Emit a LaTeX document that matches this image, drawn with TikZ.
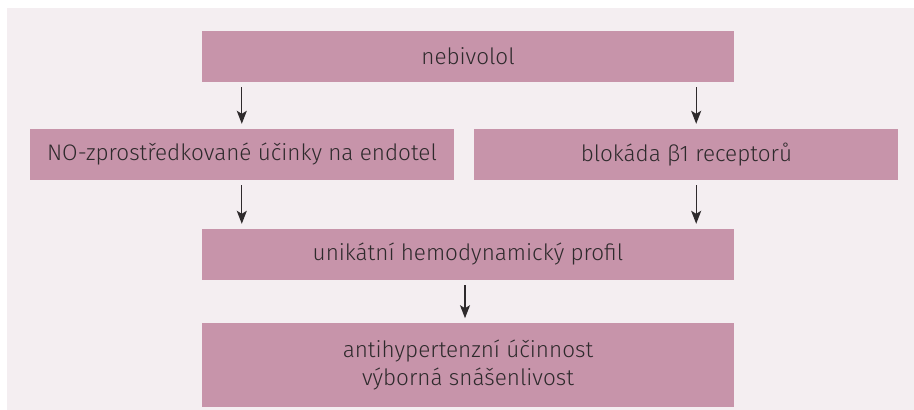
\documentclass[tikz,border=0pt]{standalone}
\usepackage{fontspec}
\setmainfont{Fira Sans}[UprightFont=* Light]
\usetikzlibrary{positioning, arrows.meta}

\definecolor{bgpink}{HTML}{F4EEF1}
\definecolor{boxpink}{HTML}{C794AA}
\definecolor{inkgrey}{HTML}{2E2A2C}

\tikzset{
    box/.style={fill=boxpink, text=inkgrey, inner sep=0pt, minimum height=51pt,
        font=\fontsize{22.5}{28}\selectfont, align=center},
    widebox/.style={box, minimum width=532pt},
    halfbox/.style={box, minimum width=424pt},
    flow/.style={-{Stealth[length=13pt, width=10pt, inset=3pt]}, line width=1.3pt,
        draw=inkgrey, shorten <=5pt, shorten >=5pt},
}

\begin{document}
\begin{tikzpicture}[x=1pt, y=-1pt]
    \useasboundingbox (0,0) rectangle (914,410);
    \fill[bgpink] (7,8) rectangle (914,410);

    % top
    \node [widebox] (neb) at (468,56.5) {nebivolol};
    % two effects
    \node [halfbox] (no) at (242,154.5) {NO-zprostředkované účinky na endotel};
    \node [halfbox, right=20pt of no] (beta) {blokáda β1 receptorů};
    % profile and result
    \node [widebox] (profil) at (468,254.5) {unikátní hemodynamický profil};
    \node [widebox, minimum height=84pt, below=43pt of profil] (vysl)
        {antihypertenzní účinnost\\výborná snášenlivost};

    \coordinate (tl) at ([xshift=40pt]neb.south west);
    \coordinate (tr) at ([xshift=-38pt]neb.south east);
    \coordinate (ml) at ([xshift=40pt]profil.north west);
    \coordinate (mr) at ([xshift=-38pt]profil.north east);

    \draw [flow] (tl) -- (tl |- no.north);
    \draw [flow] (tr) -- (tr |- beta.north);
    \draw [flow] (ml |- no.south) -- (ml);
    \draw [flow] (mr |- beta.south) -- (mr);
    \draw [flow] ([xshift=-3pt]profil.south) -- ([xshift=-3pt]vysl.north);
\end{tikzpicture}
\end{document}
